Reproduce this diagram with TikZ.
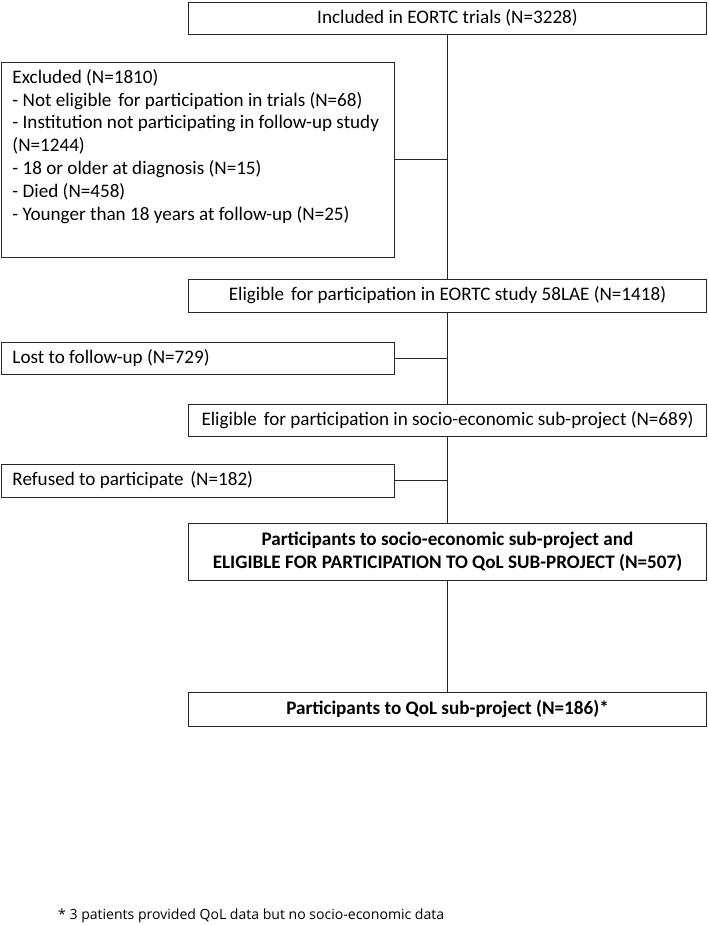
\documentclass[tikz,border=0pt]{standalone}
\usepackage{fontspec}
\setmainfont{Carlito}
\newfontfamily\notefont{Open Sans}
\newcommand{\wgap}{\hspace{0.36em}}
\begin{document}
\begin{tikzpicture}[x=1bp,y=-1bp,
  box/.style={draw=black!85, line width=1bp, inner sep=0pt, rectangle,
    font=\fontsize{19.2}{22.9}\selectfont},
  rbox/.style={box, minimum width=517bp, align=center},
  lbox/.style={box, minimum width=392bp, text width=371bp, align=flush left},
  link/.style={draw=black!85, line width=1bp}]
\fill[white] (0,0) rectangle (709,925);
\useasboundingbox (0,0) rectangle (709,925);

\node[rbox, minimum height=32bp] (top) at (447.5,18.3) {Included in EORTC trials (N=3228)};
\node[lbox, minimum height=195bp] (excl) at (198,159.5) {Excluded (N=1810)\\
- Not eligible\wgap for participation in trials (N=68)\\
- Institution not participating in follow-up study\\
(N=1244)\\
- 18 or older at diagnosis (N=15)\\
- Died (N=458)\\
- Younger than 18 years at follow-up (N=25)\\
\strut};
\node[rbox, minimum height=33bp] (elig1) at (447.5,295.5) {Eligible\wgap for participation in EORTC study 58LAE (N=1418)};
\node[lbox, minimum height=32bp] (lost) at (198,358) {Lost to follow-up (N=729)};
\node[rbox, minimum height=32bp] (elig2) at (447.5,420) {Eligible\wgap for participation in socio-economic sub-project (N=689)};
\node[lbox, minimum height=33bp] (ref) at (198,480.5) {Refused to participate\wgap(N=182)};
\node[rbox, minimum height=56.5bp, font=\fontsize{19.2}{23.5}\selectfont\bfseries] (part) at (447.5,551.75) {Participants to socio-economic sub-project and\\ELIGIBLE FOR PARTICIPATION TO QoL SUB-PROJECT (N=507)};
\node[rbox, minimum height=34bp, font=\fontsize{19.2}{22.9}\selectfont\bfseries] (qol) at (447.5,709) {Participants to QoL sub-project (N=186)*};

\node[anchor=base west, inner sep=0pt, font=\notefont\fontsize{14.1}{16}\selectfont] (note) at (58,919) {* 3 patients provided QoL data but no socio-economic data};

\draw[link] (top.south) -- (elig1.north);
\draw[link] (elig1.south) -- (elig2.north);
\draw[link] (elig2.south) -- (part.north);
\draw[link] (part.south) -- (qol.north);
\draw[link] (excl.east) -- (excl.east -| top.south);
\draw[link] (lost.east) -- (lost.east -| top.south);
\draw[link] (ref.east) -- (ref.east -| top.south);
\end{tikzpicture}
\end{document}
